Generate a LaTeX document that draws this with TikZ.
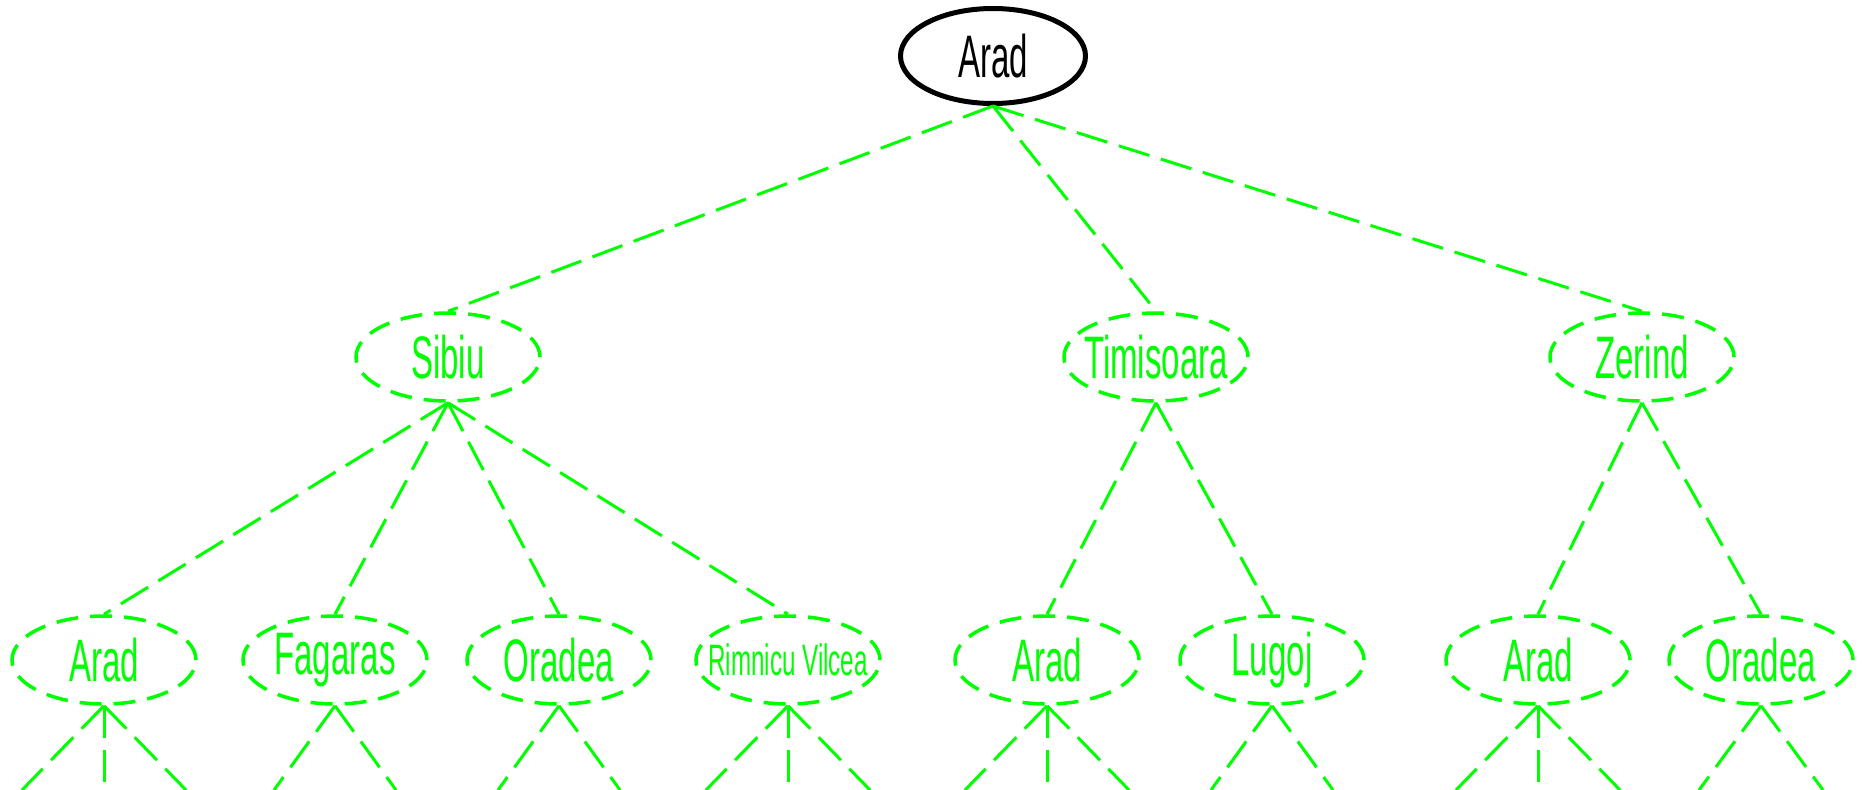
\documentclass[tikz,border=0pt]{standalone}
\usepackage{fontspec}
\setmainfont{Liberation Sans}[FakeStretch=0.55]
\usepackage{xcolor}
\usepackage{tikz}
\usetikzlibrary{shapes.geometric}

\begin{document}
\begin{tikzpicture}[x=1pt, y=-1pt,
		city/.style={ellipse, draw, inner sep=0pt, inner xsep=-20pt, minimum width=184pt, minimum height=88pt, font=\fontsize{60}{66}\selectfont},
		fringe/.style={city, color=green, line width=3.5pt, dash pattern=on 22pt off 12pt},
		link/.style={color=green, line width=3pt, dash pattern=on 32pt off 12pt}]
				\useasboundingbox (0, 0) rectangle (1864, 790);
				% root
				\node[city, line width=5pt, minimum width=185pt, minimum height=95pt] (arad) at (993, 56) {Arad};
				% first level
				\node[fringe] (sibiu) at (448, 357) {Sibiu};
				\node[fringe] (timisoara) at (1156, 357) {Timisoara};
				\node[fringe] (zerind) at (1642, 357) {Zerind};
				% second level
				\node[fringe] (s1) at (104, 660) {Arad};
				\node[fringe] (s2) at (335, 660) {Fagaras};
				\node[fringe] (s3) at (559, 660) {Oradea};
				\node[fringe, font=\fontsize{44}{48}\selectfont] (s4) at (788, 660) {Rimnicu Vilcea};
				\node[fringe] (t1) at (1047, 660) {Arad};
				\node[fringe] (t2) at (1272, 660) {Lugoj};
				\node[fringe] (z1) at (1538, 660) {Arad};
				\node[fringe] (z2) at (1761, 660) {Oradea};
				% free ends at the bottom
				\coordinate (s1l) at (22, 790);
				\coordinate (s1m) at (104, 790);
				\coordinate (s1r) at (186, 790);
				\coordinate (s2l) at (274, 790);
				\coordinate (s2r) at (396, 790);
				\coordinate (s3l) at (498, 790);
				\coordinate (s3r) at (620, 790);
				\coordinate (s4l) at (706, 790);
				\coordinate (s4m) at (788, 790);
				\coordinate (s4r) at (870, 790);
				\coordinate (t1l) at (965, 790);
				\coordinate (t1m) at (1047, 790);
				\coordinate (t1r) at (1129, 790);
				\coordinate (t2l) at (1211, 790);
				\coordinate (t2r) at (1333, 790);
				\coordinate (z1l) at (1456, 790);
				\coordinate (z1m) at (1538, 790);
				\coordinate (z1r) at (1620, 790);
				\coordinate (z2l) at (1699, 790);
				\coordinate (z2r) at (1823, 790);
				% edges
				\draw[link] (arad.south) -- (sibiu.north);
				\draw[link] (arad.south) -- (timisoara.north);
				\draw[link] (arad.south) -- (zerind.north);
				\draw[link] (sibiu.south) -- (s1.north);
				\draw[link] (sibiu.south) -- (s2.north);
				\draw[link] (sibiu.south) -- (s3.north);
				\draw[link] (sibiu.south) -- (s4.north);
				\draw[link] (timisoara.south) -- (t1.north);
				\draw[link] (timisoara.south) -- (t2.north);
				\draw[link] (zerind.south) -- (z1.north);
				\draw[link] (zerind.south) -- (z2.north);
				\draw[link] (s1.south) -- (s1l);
				\draw[link] (s1.south) -- (s1m);
				\draw[link] (s1.south) -- (s1r);
				\draw[link] (s2.south) -- (s2l);
				\draw[link] (s2.south) -- (s2r);
				\draw[link] (s3.south) -- (s3l);
				\draw[link] (s3.south) -- (s3r);
				\draw[link] (s4.south) -- (s4l);
				\draw[link] (s4.south) -- (s4m);
				\draw[link] (s4.south) -- (s4r);
				\draw[link] (t1.south) -- (t1l);
				\draw[link] (t1.south) -- (t1m);
				\draw[link] (t1.south) -- (t1r);
				\draw[link] (t2.south) -- (t2l);
				\draw[link] (t2.south) -- (t2r);
				\draw[link] (z1.south) -- (z1l);
				\draw[link] (z1.south) -- (z1m);
				\draw[link] (z1.south) -- (z1r);
				\draw[link] (z2.south) -- (z2l);
				\draw[link] (z2.south) -- (z2r);
			\end{tikzpicture}
\end{document}
